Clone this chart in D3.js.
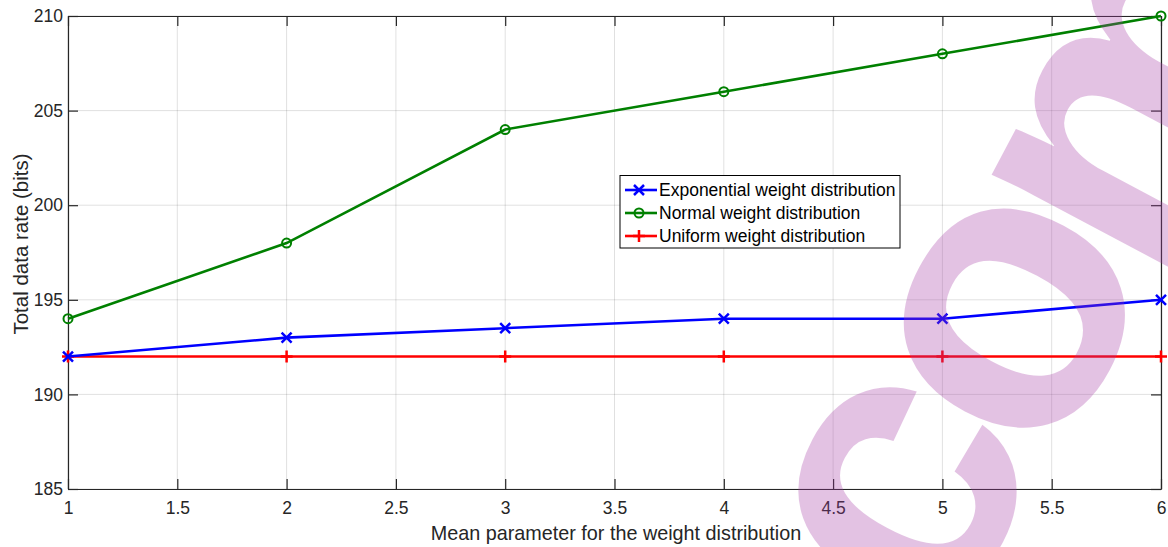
<!DOCTYPE html>
<html>
<head>
<meta charset="utf-8">
<script src="https://cdn.jsdelivr.net/npm/d3@7"></script>
<style>
  body { margin: 0; background: #fff; }
  svg { display: block; font-family: "Liberation Sans", Arial, sans-serif; }
</style>
</head>
<body>
<div id="chart"></div>
<script>
// data
const xValues = [1, 2, 3, 4, 5, 6];
const expValues = [192, 193, 193.5, 194, 194, 195];
const normalValues = [194, 198, 204, 206, 208, 210];
const uniformValues = [192, 192, 192, 192, 192, 192];
const seriesNames = ['Exponential weight distribution', 'Normal weight distribution', 'Uniform weight distribution'];
const xTicks = [1, 1.5, 2, 2.5, 3, 3.5, 4, 4.5, 5, 5.5, 6];
const yTicks = [185, 190, 195, 200, 205, 210];
const watermarkLetters = ['c', 'o', 'm'];

const width = 1168, height = 547;
const margin = { top: 16, right: 7, bottom: 58, left: 68 };

const svg = d3.select('#chart').append('svg')
  .attr('width', width)
  .attr('height', height);

const x = d3.scaleLinear().domain([1, 6]).range([margin.left, width - margin.right]);
const y = d3.scaleLinear().domain([185, 210]).range([height - margin.bottom, margin.top]);

// grid
const grid = svg.append('g');
grid.selectAll('.gx').data(xTicks).enter().append('line')
  .attr('x1', d => x(d)).attr('x2', d => x(d))
  .attr('y1', y(185)).attr('y2', y(210))
  .attr('stroke', '#000').attr('stroke-opacity', 0.12).attr('stroke-width', 1);
grid.selectAll('.gy').data(yTicks).enter().append('line')
  .attr('x1', x(1)).attr('x2', x(6))
  .attr('y1', d => y(d)).attr('y2', d => y(d))
  .attr('stroke', '#000').attr('stroke-opacity', 0.12).attr('stroke-width', 1);

// axes (ticks inside, closed box)
const axisColor = '#262626';
const xAxis = svg.append('g')
  .attr('transform', `translate(0,${y(185)})`)
  .call(d3.axisBottom(x).tickValues(xTicks).tickSizeInner(-10).tickSizeOuter(0).tickPadding(19)
    .tickFormat(d3.format('')));
const xAxisTop = svg.append('g')
  .attr('transform', `translate(0,${y(210)})`)
  .call(d3.axisTop(x).tickValues(xTicks).tickSizeInner(-10).tickSizeOuter(0).tickFormat(''));
const yAxis = svg.append('g')
  .attr('transform', `translate(${x(1)},0)`)
  .call(d3.axisLeft(y).tickValues(yTicks).tickSizeInner(-10).tickSizeOuter(0).tickPadding(5));
const yAxisRight = svg.append('g')
  .attr('transform', `translate(${x(6)},0)`)
  .call(d3.axisRight(y).tickValues(yTicks).tickSizeInner(-10).tickSizeOuter(0).tickFormat(''));

[xAxis, xAxisTop, yAxis, yAxisRight].forEach(a => {
  a.selectAll('path.domain').attr('stroke', axisColor).attr('stroke-width', 1.2);
  a.selectAll('line').attr('stroke', axisColor).attr('stroke-width', 1.2);
  a.selectAll('text').attr('fill', axisColor).attr('font-size', 17.5)
    .attr('font-family', '"Liberation Sans", Arial, sans-serif');
});
xAxis.selectAll('text').attr('dy', '0.32em');

// axis labels
svg.append('text')
  .attr('x', 616)
  .attr('y', 540)
  .attr('text-anchor', 'middle')
  .attr('font-size', 19.8)
  .attr('fill', axisColor)
  .text('Mean parameter for the weight distribution');

svg.append('text')
  .attr('transform', 'translate(28,244) rotate(-90)')
  .attr('text-anchor', 'middle')
  .attr('font-size', 20.5)
  .attr('fill', axisColor)
  .text('Total data rate (bits)');

// series
const series = [
  { name: seriesNames[0], values: expValues, color: '#0000ff', marker: 'x' },
  { name: seriesNames[1], values: normalValues, color: '#008000', marker: 'o' },
  { name: seriesNames[2], values: uniformValues, color: '#ff0000', marker: '+' }
];

const line = d3.line().x(d => x(d[0])).y(d => y(d[1]));

function drawMarker(g, type, cx, cy, color) {
  if (type === 'x') {
    const s = 5;
    g.append('path')
      .attr('d', `M${cx - s},${cy - s}L${cx + s},${cy + s}M${cx - s},${cy + s}L${cx + s},${cy - s}`)
      .attr('stroke', color).attr('stroke-width', 2.5).attr('fill', 'none');
  } else if (type === 'o') {
    g.append('circle')
      .attr('cx', cx).attr('cy', cy).attr('r', 4.5)
      .attr('stroke', color).attr('stroke-width', 2).attr('fill', 'none');
  } else {
    const s = 6;
    g.append('path')
      .attr('d', `M${cx - s},${cy}L${cx + s},${cy}M${cx},${cy - s}L${cx},${cy + s}`)
      .attr('stroke', color).attr('stroke-width', 2.5).attr('fill', 'none');
  }
}

// draw in reverse so blue sits on top like the figure
[series[2], series[1], series[0]].forEach(s => {
  const pts = xValues.map((v, i) => [v, s.values[i]]);
  const g = svg.append('g');
  g.append('path')
    .attr('d', line(pts))
    .attr('fill', 'none')
    .attr('stroke', s.color)
    .attr('stroke-width', 2.6);
  pts.forEach(p => drawMarker(g, s.marker, x(p[0]), y(p[1]), s.color));
});

// legend
const legend = svg.append('g').attr('transform', 'translate(620,175.5)');
legend.append('rect')
  .attr('width', 280).attr('height', 72.5)
  .attr('fill', '#fff').attr('stroke', '#000').attr('stroke-width', 1);
series.forEach((s, i) => {
  const ly = 14.5 + i * 23;
  legend.append('line')
    .attr('x1', 5).attr('x2', 37).attr('y1', ly).attr('y2', ly)
    .attr('stroke', s.color).attr('stroke-width', 2.6);
  drawMarker(legend, s.marker, 19, ly, s.color);
  legend.append('text')
    .attr('x', 39).attr('y', ly)
    .attr('dy', '0.35em')
    .attr('font-size', 17.5)
    .attr('fill', '#000')
    .text(s.name);
});

// translucent watermark laid over the plot (only "com" falls inside the frame)
const wmSize = 395;
const wmPos = [[-207, 88], [0, 101.5], [266, 118]];
const wm = svg.append('g')
  .attr('transform', 'translate(1017,320) rotate(-62)')
  .attr('opacity', 0.3)
  .style('pointer-events', 'none');
wm.selectAll('text').data(watermarkLetters).enter().append('text')
  .attr('x', (d, i) => wmPos[i][0])
  .attr('y', (d, i) => wmPos[i][1])
  .attr('text-anchor', 'middle')
  .attr('font-size', wmSize)
  .attr('font-weight', 'bold')
  .attr('fill', 'rgb(165,58,165)')
  .text(d => d);
</script>
</body>
</html>
